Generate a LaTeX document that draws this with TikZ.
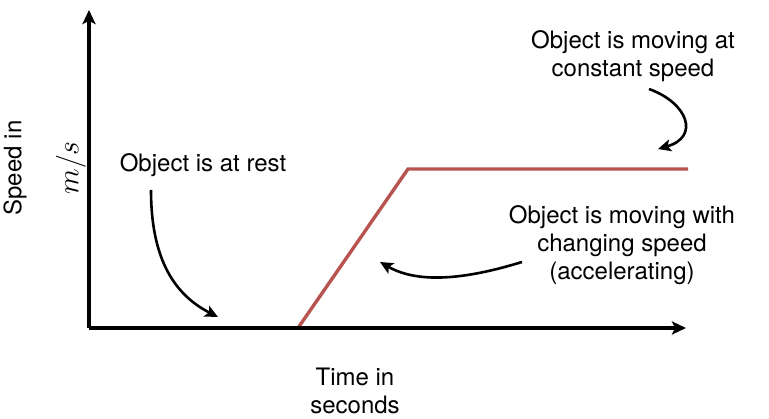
\documentclass[tikz,border=0pt]{standalone}
\usepackage{fontspec}
\setmainfont{TeX Gyre Heros}
\usetikzlibrary{positioning, arrows.meta}
\definecolor{speedred}{HTML}{B85450}
\tikzset{
  axis/.style={line width=3.2pt, -{Stealth[length=14pt, width=13pt, inset=3pt]}},
  note/.style={align=center, font=\fontsize{24}{28}\selectfont},
  pointer/.style={line width=2.6pt, -{Stealth[length=13pt, width=12pt, inset=3pt]}},
  speedline/.style={draw=speedred, line width=3.4pt, line join=miter}
}
\begin{document}
\begin{tikzpicture}[x=1pt, y=-1pt]
    \useasboundingbox (0,0) rectangle (769,419);
    % axes
    \coordinate (origin) at (89,328);
    \coordinate (ytip) at (89,10);
    \coordinate (xtip) at (686,328);
    % speed curve
    \coordinate (restend) at (298,328);
    \coordinate (topstart) at (408,169);
    \coordinate (topend) at (688,169);
    \path [speedline] (origin) -- (restend) -- (topstart) -- (topend);
    \draw [axis] (origin) -- (ytip);
    \draw [axis] (origin) -- (xtip);
    % axis labels
    \node [note, rotate=90] (speedlabel) at (15,168) {Speed in};
    \node [note, rotate=90] (unitlabel) at (71,168) {\scalebox{1.2}{$m/s$}};
    \node [note] (timelabel) at (355,391) {Time in\\seconds};
    % notes
    \node [note] (rest) at (203,165) {Object is at rest};
    \node [note] (constant) at (633,56) {Object is moving at\\constant speed};
    \node [note] (accel) at (622,245) {Object is moving with\\changing speed\\(accelerating)};
    \coordinate (restfrom) at (151,190);
    \coordinate (restto) at (218,317);
    \coordinate (constfrom) at (649,89);
    \coordinate (constto) at (658,149);
    \coordinate (accelfrom) at (522,262);
    \coordinate (accelto) at (380,262);
    \draw [pointer] (restfrom) .. controls (151,260) and (175,295) .. (restto);
    \draw [pointer] (constfrom) .. controls (688,103) and (700,137) .. (constto);
    \draw [pointer] (accelfrom) .. controls (470,278) and (420,285) .. (accelto);
\end{tikzpicture}
\end{document}
